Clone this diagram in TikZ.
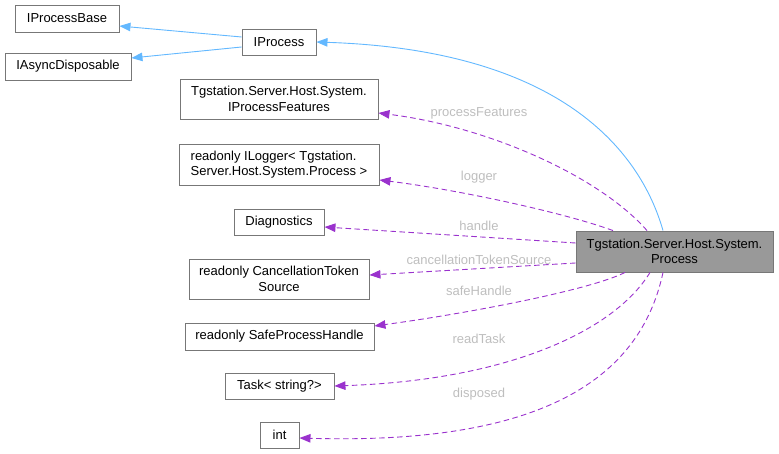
\documentclass[tikz,border=0pt]{standalone}
\usepackage{fontspec}
\setmainfont{Liberation Sans}
\usetikzlibrary{arrows.meta}
\definecolor{boxline}{HTML}{777777}
\definecolor{mainfill}{HTML}{999999}
\definecolor{inhblue}{HTML}{63B8FF}
\definecolor{usepurple}{HTML}{9A32CD}
\definecolor{lblgray}{HTML}{BEBEBE}
\tikzset{
  cls/.style={draw=boxline, line width=0.9pt, inner sep=2pt, align=center,
    font=\fontsize{13}{15.5}\selectfont, text=black},
  inh/.style={draw=inhblue, line width=0.9pt, -{Triangle[length=11pt,width=8.5pt]}},
  use/.style={draw=usepurple, line width=0.9pt, dash pattern=on 5.5pt off 3.5pt,
    -{Triangle[length=11pt,width=8.5pt,fill=usepurple]}},
  lbl/.style={text=lblgray, font=\fontsize{13}{15.5}\selectfont, inner sep=0pt}
}
\begin{document}
\begin{tikzpicture}[x=1pt,y=-1pt]
\useasboundingbox (0,0) rectangle (779,454);
% nodes
\node[cls, minimum width=104pt, minimum height=27pt] (base) at (67,18.5) {IProcessBase};
\node[cls, minimum width=126pt, minimum height=27pt] (async) at (68,66.5) {IAsyncDisposable};
\node[cls, minimum width=74pt, minimum height=26pt] (iproc) at (279,42) {IProcess};
\node[cls, minimum width=198pt, minimum height=40pt] (feat) at (279,99) {Tgstation.Server.Host.System.\\IProcessFeatures};
\node[cls, minimum width=200pt, minimum height=41pt, align=left] (logger) at (279,164.5) {readonly ILogger< Tgstation.\\Server.Host.System.Process >};
\node[cls, minimum width=90pt, minimum height=26pt] (diag) at (279,222) {Diagnostics};
\node[cls, minimum width=180pt, minimum height=40pt] (cts) at (279,279) {readonly CancellationToken\\Source};
\node[cls, minimum width=189pt, minimum height=27pt] (safe) at (279.5,336.5) {readonly SafeProcessHandle};
\node[cls, minimum width=109pt, minimum height=26pt] (task) at (279.5,386) {Task< string?>};
\node[cls, minimum width=39pt, minimum height=26pt] (int) at (279.5,435) {int};
\node[cls, fill=mainfill, minimum width=197pt, minimum height=41pt] (proc) at (674.5,251.5) {Tgstation.Server.Host.System.\\Process};
% inheritance
\draw[inh] ([yshift=5pt]iproc.west) -- ([yshift=-7.5pt]base.east);
\draw[inh] ([yshift=-5pt]iproc.west) -- ([yshift=8.5pt]async.east);
\draw[inh] ([xshift=-11.5pt]proc.north) .. controls (640,150) and (560,50) .. (iproc.east);
% usage
\draw[use] ([xshift=-27.5pt]proc.north) .. controls (600,177) and (490,127) .. ([yshift=-14pt]feat.east);
\node[lbl] (lfeat) at (479,113) {processFeatures};
\draw[use] ([xshift=-61.5pt]proc.north) .. controls (565,213) and (460,190) .. ([yshift=-15.5pt]logger.east);
\node[lbl] (llog) at (479,177) {logger};
\draw[use] ([yshift=8.5pt]proc.west) -- ([yshift=-5pt]diag.east);
\node[lbl] (lhandle) at (479,225.5) {handle};
\draw[use] ([yshift=-11.5pt]proc.west) -- ([yshift=4pt]cts.east);
\node[lbl] (lcts) at (479,259.5) {cancellationTokenSource};
\draw[use] ([xshift=-49.5pt]proc.south) .. controls (590,290) and (470,313) .. ([yshift=10.5pt]safe.east);
\node[lbl] (lsafe) at (479,291) {safeHandle};
\draw[use] ([xshift=-24.5pt]proc.south) .. controls (615,330) and (510,380) .. (task.east);
\node[lbl] (ltask) at (479,339) {readTask};
\draw[use] ([xshift=-11.5pt]proc.south) .. controls (640,380) and (540,445) .. ([yshift=-3pt]int.east);
\node[lbl] (ldisp) at (479,394) {disposed};
\end{tikzpicture}
\end{document}
